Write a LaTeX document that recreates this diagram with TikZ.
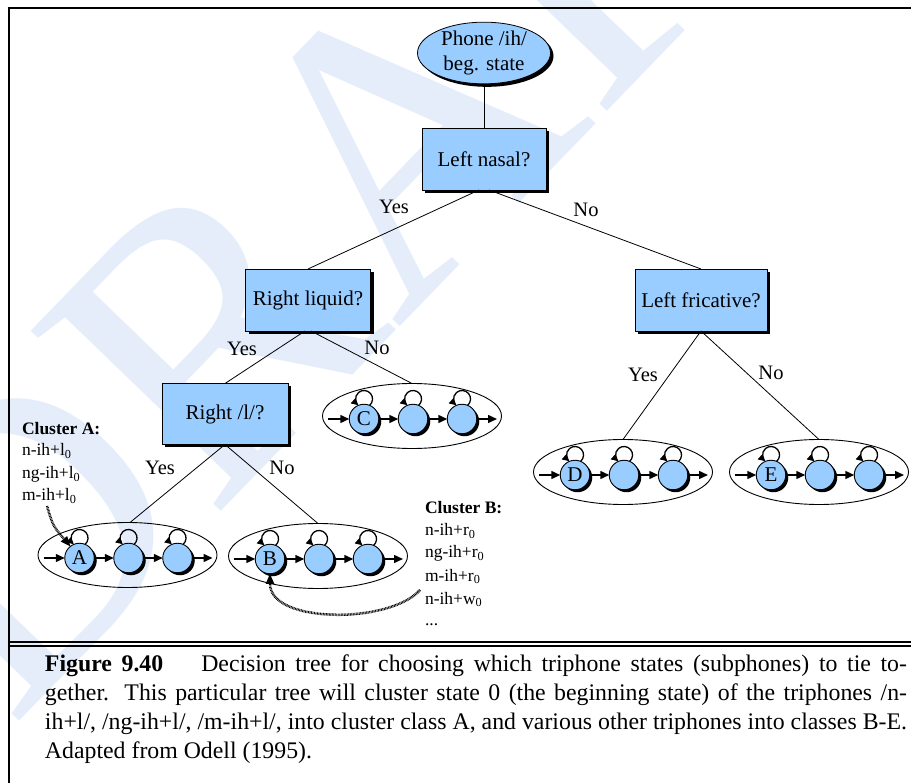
\documentclass[tikz,border=0pt]{standalone}
\usepackage{fontspec}
\setmainfont{Liberation Serif}
\usetikzlibrary{shapes.geometric, shadows, arrows.meta, calc}
\definecolor{nodeblue}{RGB}{153,204,255}
\definecolor{wmblue}{RGB}{229,237,251}

% one left-to-right HMM with three emitting states inside an ellipse
% #1 name prefix, #2 x, #3 y of the ellipse centre, #4 label of the first state
\newcommand{\hmmchain}[4]{%
  \node[clusterell] (#1) at (#2,#3) {};
  \node[hmmstate] (#1s1) at ($(#1)+(-48,3)$) {#4};
  \node[hmmstate] (#1s2) at ($(#1)+(1,3)$) {};
  \node[hmmstate] (#1s3) at ($(#1)+(50,3)$) {};
  \coordinate (#1in) at ($(#1s1)+(-36,0)$);
  \coordinate (#1out) at ($(#1s3)+(35,0)$);
  \draw[flow] (#1in) -- (#1s1);
  \draw[flow] (#1s1) -- (#1s2);
  \draw[flow] (#1s2) -- (#1s3);
  \draw[flow] (#1s3) -- (#1out);
  \foreach \k in {1,2,3}{%
    \draw[selfloop] ($(#1s\k)+(5.5,-13.5)$) arc[start angle=50, end angle=-228, radius=8.5];
  }%
}

\begin{document}
\begin{tikzpicture}[x=1pt,y=-1pt,
  every node/.style={inner sep=0pt, outer sep=0pt},
  treeline/.style={line width=0.8pt},
  framerule/.style={line width=2pt},
  boxshadow/.style={drop shadow={shadow xshift=3pt, shadow yshift=-3pt, fill=black, opacity=1}},
  question/.style={draw, line width=0.8pt, fill=nodeblue, boxshadow,
    minimum width=124pt, minimum height=62pt, font=\fontsize{21}{24}\selectfont},
  rootell/.style={draw, ellipse, line width=0.8pt, fill=nodeblue, boxshadow,
    minimum width=133pt, minimum height=60pt, align=center, font=\fontsize{21}{24.5}\selectfont},
  lbl/.style={font=\fontsize{20.5}{24}\selectfont},
  clusterell/.style={draw, ellipse, line width=0.9pt, minimum width=179pt, minimum height=65pt},
  hmmstate/.style={circle, draw, line width=0.9pt, fill=nodeblue, minimum size=29.5pt,
    drop shadow={shadow xshift=2.5pt, shadow yshift=-2.5pt, fill=black, opacity=1},
    font=\fontsize{21}{24}\selectfont},
  flow/.style={line width=1.5pt, -{Triangle[length=9pt,width=8pt]}},
  selfloop/.style={line width=1.3pt, -{Triangle[length=7pt,width=7pt]}},
  tieline/.style={line width=2.5pt, dash pattern=on 0.8pt off 0.7pt,
    -{Triangle[length=10pt,width=8.5pt,line width=0pt]}},
  clu/.style={anchor=base west, font=\fontsize{17.5}{21}\selectfont},
  captext/.style={anchor=base west, font=\fontsize{23.8}{29}\selectfont},
]
\useasboundingbox (0,0) rectangle (911,783);

% watermark
\node[rotate=46, text=wmblue, font=\fontsize{400}{400}\selectfont] (wm) at (372,166) {DRAFT};

% frame
\draw[framerule] (7.5,8.5) -- (911,8.5);
\draw[framerule] (8.5,7.5) -- (8.5,783);
\draw[framerule] (7.5,642) -- (911,642);
\draw[framerule] (7.5,646) -- (911,646);

% decision tree
\node[rootell] (root) at (484,53) {Phone /ih/\\beg. state};
\node[question] (ln) at (484,159) {Left nasal?};
\node[question, minimum width=125pt] (rl) at (308,300) {Right liquid?};
\node[question, minimum width=132pt] (lf) at (701,300) {Left fricative?};
\node[question, minimum width=126pt, minimum height=61pt] (rr) at (225,414) {Right /l/?};

\hmmchain{A}{127.5}{555}{A}
\hmmchain{B}{318}{556}{B}
\hmmchain{C}{412}{416}{C}
\hmmchain{D}{623}{472}{D}
\hmmchain{E}{819}{472}{E}

\draw[treeline] (root) -- (ln);
\draw[treeline] ([xshift=-5pt]ln.south) -- (rl.north);
\draw[treeline] ([xshift=5pt]ln.south) -- (lf.north);
\draw[treeline] ([xshift=-3pt]rl.south) -- (rr.north);
\draw[treeline] ([xshift=3pt]rl.south) -- (C.north);
\draw[treeline] (lf.south) -- (D.north);
\draw[treeline] (lf.south) -- (E.north);
\draw[treeline] (rr.south) -- ([xshift=2.5pt]A.north);
\draw[treeline] (rr.south) -- (B.north);

\node[lbl] (y1) at (394,207) {Yes};
\node[lbl] (n1) at (586,210) {No};
\node[lbl] (y2) at (242,349) {Yes};
\node[lbl] (n2) at (377,348) {No};
\node[lbl] (y3) at (643,375) {Yes};
\node[lbl] (n3) at (771,373) {No};
\node[lbl] (y4) at (160,468) {Yes};
\node[lbl] (n4) at (282,468) {No};

% cluster members
\node[clu] (ca0) at (22,435) {\textbf{Cluster A:}};
\node[clu] (ca1) at (22,456) {n-ih+l\textsubscript{0}};
\node[clu] (ca2) at (22,479) {ng-ih+l\textsubscript{0}};
\node[clu] (ca3) at (22,501) {m-ih+l\textsubscript{0}};

\node[clu] (cb0) at (425,514) {\textbf{Cluster B:}};
\node[clu] (cb1) at (425,535.5) {n-ih+r\textsubscript{0}};
\node[clu] (cb2) at (425,558) {ng-ih+r\textsubscript{0}};
\node[clu] (cb3) at (425,581) {m-ih+r\textsubscript{0}};
\node[clu] (cb4) at (425,604) {n-ih+w\textsubscript{0}};
\node[clu] (cb5) at (425,625) {...};

\coordinate (atail) at (47,506);
\coordinate (btail) at (420,590);
\draw[tieline] (atail) .. controls (53,526) .. (As1.128);
\draw[tieline] (btail) .. controls (390,624) and (270,624) .. (Bs1.south);

% caption
\node[captext] (cap1) at (45,671) {\hbox to 862pt{\textbf{Figure 9.40}\hskip 38pt Decision tree for choosing which triphone states (subphones) to tie to-}};
\node[captext] (cap2) at (45,700) {\hbox to 862pt{gether. This particular tree will cluster state 0 (the beginning state) of the triphones /n-}};
\node[captext] (cap3) at (45,729) {\hbox to 862pt{ih+l/, /ng-ih+l/, /m-ih+l/, into cluster class A, and various other triphones into classes B-E.}};
\node[captext] (cap4) at (45,758) {Adapted from Odell (1995).};
\end{tikzpicture}
\end{document}
